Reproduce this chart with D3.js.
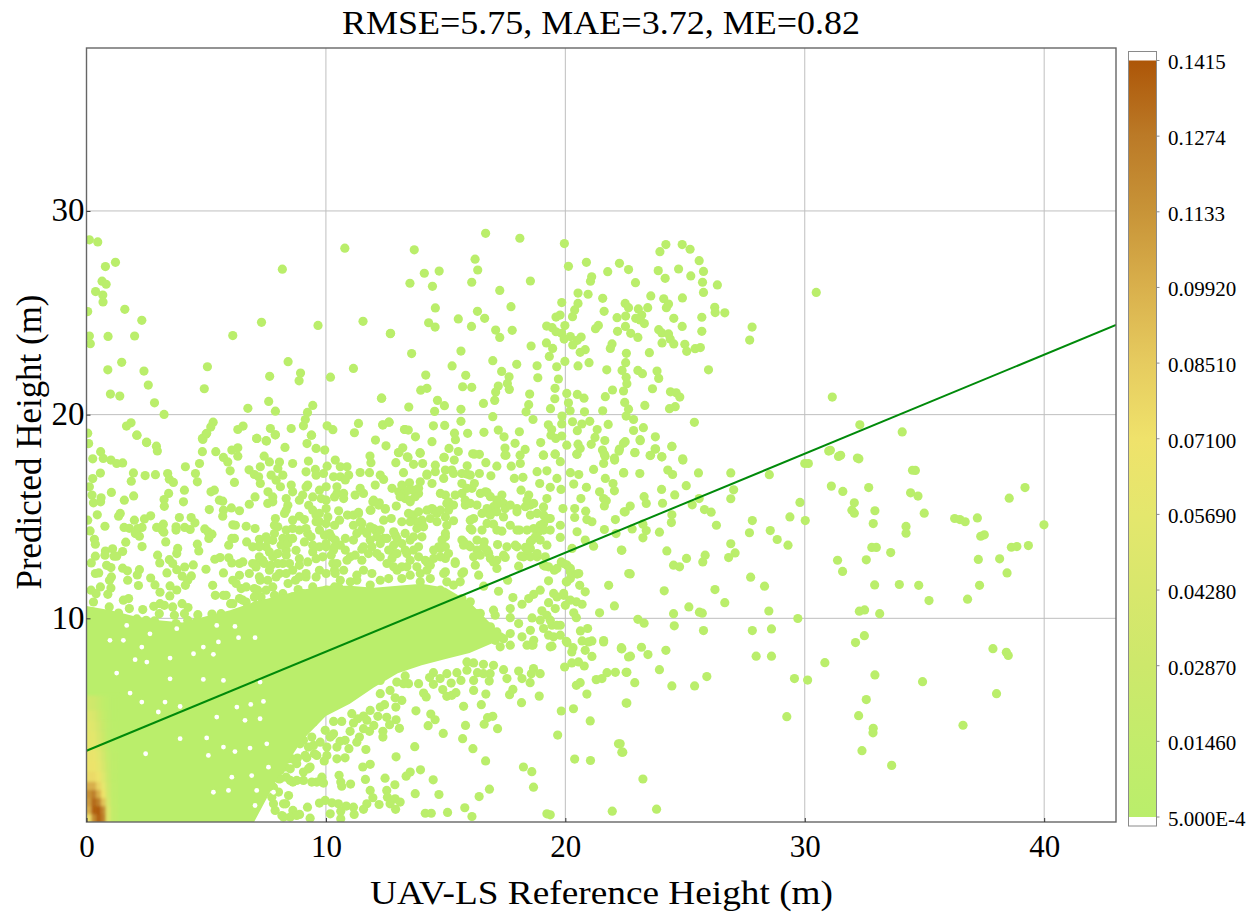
<!DOCTYPE html>
<html><head><meta charset="utf-8">
<script src="https://cdn.jsdelivr.net/npm/d3@7"></script>
<style>html,body{margin:0;padding:0;background:#fff}svg{display:block}text{font-family:"Liberation Serif",serif;fill:#000}</style>
</head><body><svg id="c" width="1258" height="912"></svg>
<script>
const xTicks=[0,10,20,30,40], yTicks=[10,20,30];
const titleText="RMSE=5.75, MAE=3.72, ME=0.82", xTitle="UAV-LS Reference Height (m)", yTitle="Predicted Height (m)";
const legendValues=[0.1415,0.1274,0.1133,0.0992,0.0851,0.071,0.0569,0.0428,0.0287,0.0146,0.0005];
const legendLabels=["0.1415","0.1274","0.1133","0.09920","0.08510","0.07100","0.05690","0.04280","0.02870","0.01460","5.000E-4"];
const colorStops=[0.0005,0.0146,0.0287,0.0428,0.0569,0.071,0.0851,0.0992,0.1133,0.1274,0.1415];
const colorValues=["#baee6b","#c3ec6b","#cde86b","#d8e76c","#e4e76d","#efe26b","#e6cb5f","#d9b04c","#c89438","#bb7a27","#ad5608"];
const fitX=[0,43], fitY=[3.5,24.4];

const farRight=[[39.99,14.59],[34.62,17.26],[39.2,16.42],[38.54,15.9],[34.42,16.16],[34.73,16],[34.99,15.16],[36.26,14.9],[36.48,14.85],[36.7,14.74],[37.21,14.93],[37.35,14.03],[37.5,14.1],[38.63,13.49],[38.86,13.52],[39.34,13.57],[37.25,12.89],[38.14,12.92],[38.45,12.23],[37.3,11.62],[36.8,10.94],[34.76,11.62],[35.19,10.87],[33.95,11.66],[32.92,11.64],[34.23,14.51],[34.23,14.18],[33.59,13.23],[32.8,13.48],[32.99,13.48],[32.57,12.87],[32.86,14.65],[32.93,15.28],[32.07,15.67],[31.97,15.31],[32.07,15.16],[32.67,16.42],[31.59,16.23],[31.11,16.49],[32.26,17.83],[31.41,17.95],[31,18.21],[30,17.6],[28.52,17.05],[26.91,17.14],[27.03,16.31],[26.91,15.87],[29.8,15.69],[29.38,14.98],[30.02,14.8],[27.81,14.8],[28.56,14.31],[27.69,14.2],[28.85,13.87],[29.3,13.59],[26.91,13.66],[27.09,13.21],[26.82,12.98],[25.84,13.1],[25.74,12.77],[25.06,12.94],[24.52,12.61],[24.77,12.53],[24.24,13.31],[22.71,12.18],[27.74,12.02],[28.32,11.58],[26.25,11.41],[26.66,10.77],[24.13,11.35],[25.16,10.56],[24.52,10.23],[25.6,10.3],[25.72,10.25],[28.5,10.36],[29.71,9.99],[32.28,10.35],[32.5,10.41],[33.13,10.23],[31.37,12.85],[31.58,12.3],[32.49,9.15],[32.12,8.81],[23.03,9.95],[23.29,9.76],[24.55,9.63],[25.77,9.4],[27.81,9.4],[28.61,9.48],[28.61,8.14],[27.97,8.14],[23.18,8.58],[24.2,8.43],[23.45,8.22],[22.72,8.14],[22.36,8.5],[30.84,7.82],[22.57,7.35],[23.93,7.48],[22.9,6.84],[24.45,6.68],[25.4,6.68],[25.91,7.14],[29.57,7.04],[30.12,6.97],[32.93,7.22],[34.92,6.89],[32.57,6.01],[32.25,5.22],[32.86,4.6],[32.85,4.38],[32.39,3.5],[33.63,2.78],[29.25,5.17],[36.61,4.75],[38.01,6.3],[37.86,8.51],[38.42,8.33],[38.5,8.18],[22.57,5.84],[23.24,2.11],[23.81,0.63],[22.4,3.43],[22.29,3.84],[22.36,13.34],[22.79,14.39],[23.24,13.95],[23.38,14.31],[23.93,14.23],[24.43,14.7],[24.45,15.08],[26.31,14.57],[26.09,15.21],[25.81,15.34],[25.59,15.88],[25.3,15.57],[25.05,16.51],[24.57,16.06],[24.06,15.65],[24.02,16.33],[23.38,15.64],[23.29,15.97],[22.71,15.51],[22.5,15.23],[25.56,17.14],[24.48,17.06],[24.28,17.28],[23.11,17.11],[22.43,17.14],[24.91,17.77],[24.03,17.93],[23.56,18],[22.9,18.13],[24.45,18.44],[23.77,18.31],[23.13,18.72],[22.43,18.59],[23.24,14.62],[30.48,26],[27.7,23.66],[27.8,24.3],[31.15,20.86],[32.3,19.5],[34.07,19.15],[31.07,18.25],[31.5,18],[32.2,17.87],[34.5,17.27],[30.15,17.6]];

const upperMiddle=[[16.67,28.9],[18.1,28.66],[19.96,28.4],[13.69,28.09],[16.23,27.63],[16.34,27.1],[14.11,26.94],[14.73,27.05],[13.51,26.45],[14.45,26.3],[16.09,26.5],[18.54,26.56],[17.26,26.1],[14.57,25.24],[17.73,25.3],[16.33,25.07],[15.53,24.7],[16.63,24.73],[14.29,24.51],[14.56,24.3],[16.08,24.33],[17.09,24.15],[17.78,24.14],[17.26,23.79],[12.69,23.97],[13.58,23],[15.64,23.12],[18.57,23.37],[19.21,23.52],[19.47,23.25],[19.33,22.86],[19.98,22.61],[16.97,22.65],[17.97,22.47],[18.82,22.4],[19.64,22.35],[15.27,22.39],[17.34,22.12],[15.84,21.93],[14.17,21.94],[17.65,21.86],[18.85,21.81],[19.71,21.75],[17.58,21.53],[17.2,21.4],[17.66,21.24],[15.71,21.37],[16.09,21.34],[14.22,21.29],[13.96,21.2],[19.57,21.29],[17.09,21.11],[18.51,21.01],[20.06,21.04],[12.33,20.81],[14.66,20.7],[17.05,20.7],[19.56,20.78],[13.46,20.37],[14.95,20.44],[16.58,20.55],[18.47,20.49],[20.13,20.58],[14.54,20.16],[15.64,20.26],[19.38,20.29],[18.36,20.14],[20.2,20.19],[16.97,19.9],[18.65,19.76],[19.86,19.93],[12.64,19.63],[12.37,19.5],[15.64,19.67],[14.49,19.45],[14.96,19.47],[19.29,19.5],[19.85,19.54],[20.3,19.65],[13.3,19.27],[13.44,19.24],[13.74,18.91],[15.37,19.09],[15.92,19.08],[16.6,19.13],[17.2,19.24],[18.08,19.16],[17.44,18.91],[19.43,19.27],[19.85,18.95],[19.4,18.99],[19.6,18.83],[15.41,18.77],[14.43,18.67],[12.51,18.47],[13.21,18.37],[13.03,18.14],[13.93,18.13],[15.14,18.34],[15.53,18.19],[16.13,18.08],[16.41,18.05],[17.48,18.36],[17.9,18.59],[18.32,18.29],[18.97,18.63],[19.08,18.01],[19.57,18.06],[20.06,18.5],[17.48,18.01],[18.11,18.01],[13.4,17.93],[14.93,17.9],[20.88,27.48],[20.13,27.28],[21.77,27.02],[22.26,27.43],[22.64,27.12],[22.93,26.48],[21.1,26.77],[21.05,26.55],[20.53,25.97],[20.95,25.91],[21.56,25.71],[19.85,25.5],[20.53,25.46],[20.39,25.14],[20.3,24.81],[19.78,24.89],[19.61,24.79],[21.62,25.07],[22.5,25.46],[22.64,25.25],[23.57,25.83],[24.11,25.69],[24.31,25.43],[24.22,25.25],[24.89,25.73],[23.05,25.19],[23.44,25.25],[23.19,24.89],[22.16,24.76],[22.52,24.84],[22.94,24.73],[23.12,24.65],[23.3,24.47],[24.53,24.73],[25.7,24.78],[26.24,25.27],[26.26,25.01],[26.66,25],[25.77,26],[25.73,26.5],[26.35,26.37],[25.24,26.81],[25.77,27.03],[25.59,27.56],[24.73,27.15],[24.17,26.69],[23.88,27.07],[23.95,28],[24.2,28.35],[24.88,28.35],[25.21,28.12],[21.38,24.38],[21.26,24.22],[22.18,24.09],[22.51,24.33],[22.73,23.99],[23.03,23.79],[23.9,24.17],[24.03,24.01],[24.31,23.96],[24.38,23.71],[24.53,23.47],[24.04,23.52],[24.88,24.33],[25.7,24.09],[24.99,23.45],[25.07,23.11],[25.42,23.24],[25.64,23.29],[25.98,22.2],[19.22,24.35],[19.45,24.27],[19.61,24.07],[19.98,24.37],[19.84,23.99],[19.95,23.71],[20.21,23.83],[20.66,23.81],[20.5,23.65],[20.31,23.42],[20.83,23.19],[20.62,23.06],[21.95,23.47],[21.88,23.25],[22.55,23.01],[23.51,23.04],[22.52,22.55],[20.99,22.55],[20.53,22.39],[21.73,22.2],[22.37,22.17],[23.03,22.17],[23.22,22.01],[23.83,22.14],[23.9,21.78],[22.54,21.83],[22.57,21.52],[23.64,21.27],[21.97,21.21],[22.43,21.16],[24.39,21.12],[24.63,21.07],[24.78,20.86],[20.5,20.99],[20.78,20.81],[21.67,20.88],[22.48,20.6],[23.32,20.45],[24.59,20.39],[24.35,20.29],[22.64,20.27],[21.56,20.19],[20.8,20.14],[22.54,19.93],[22.85,19.76],[25.39,19.62],[21.02,19.67],[21.79,19.52],[20.69,19.54],[20.5,19.21],[21.33,19.27],[23.26,19.36],[22.85,19.22],[23.76,18.91],[21.24,18.88],[21.65,18.73],[23.12,18.77],[22.5,18.67],[20.53,18.55],[21.08,18.54],[24.45,18.44],[22.26,18.31],[21.55,18.26],[20.62,18.34],[23.75,18.32],[22.91,18.14],[20.48,18.05],[21.66,17.96],[23.54,17.99],[24.03,17.93],[24.9,17.83],[22.05,17.86]];

const upperLeft=[[0.12,28.58],[0.47,28.48],[0.79,27.27],[1.21,27.48],[0.65,26.55],[0.82,26.4],[0.38,26.04],[0.68,25.87],[0.69,25.53],[0.05,25.06],[1.6,25.17],[2.31,24.63],[0.12,23.86],[0.9,23.84],[2.01,23.86],[0.16,23.48],[1.47,22.57],[0.89,22.2],[2.4,22.14],[2.58,21.45],[1,21.01],[1.39,20.91],[2.84,20.58],[3.24,20.01],[1.86,19.6],[1.67,19.44],[2.1,18.99],[0.05,19.09],[2.51,18.65],[10.79,28.17],[8.18,27.14],[7.31,24.53],[9.67,24.38],[6.11,23.88],[11.55,24.58],[12.7,23.99],[8.42,22.6],[5.05,22.35],[11.15,22.27],[7.65,21.88],[8.94,22.04],[8.88,21.66],[10.19,21.84],[4.92,21.27],[12.32,20.81],[7.61,20.65],[6.74,20.31],[9.45,20.45],[7.89,20.17],[9.23,20.11],[9.14,19.76],[9.06,19.45],[5.29,19.63],[5.19,19.39],[4.99,19.04],[4.84,18.83],[6.54,19.44],[6.32,19.27],[7.68,19.32],[7.89,19.01],[8.55,19.32],[10.05,19.45],[10.29,19.26],[11.36,19.57],[11.19,19.11],[12.38,19.49],[12.63,19.63],[13.28,19.27],[9.39,18.99],[7.11,18.83],[7.5,18.72],[12.07,18.75]];

const leftFringe=[[2.11,18.99],[2.51,18.63],[2.92,18.45],[2.96,18.22],[0.09,18.58],[0.59,18.18],[0.26,17.83],[0.7,17.85],[1.02,17.77],[1.26,17.6],[1.51,17.63],[1.96,17.14],[0.58,17.13],[2.45,17.01],[2.88,17.05],[1.87,16.73],[3.39,17.11],[3.46,16.83],[3.63,16.67],[0.26,16.86],[0.12,16.46],[1.04,16.18],[1.97,16.01],[1.58,15.8],[0.23,16.05],[0.61,15.92],[0.59,15.72],[0.29,15.67],[3.43,16.13],[3.24,15.83],[4.05,15.72],[4.09,16.29],[3.25,15.5],[0.45,15.08],[1.41,15.15],[1.34,15.01],[2.68,15.03],[2.42,14.88],[2,14.82],[0.05,14.82],[0.77,14.52],[1.57,14.46],[1.79,14.42],[2.32,14.46],[2.14,14.41],[2.04,14.16],[2.21,14.03],[0.15,14.29],[0.33,13.88],[0.37,13.64],[1.64,13.74],[2.32,13.52],[2.93,14.46],[3.21,14.62],[3.16,14.33],[3.23,14.23],[3.88,14.95],[4.37,14.95],[4.53,14.69],[3.74,14.49],[3.74,14.33],[4.1,14.46],[4.33,14.36],[4.94,14.39],[5.08,14.24],[5.24,14.13],[5.11,13.92],[3.31,13.75],[0.79,13.3],[1.09,13.41],[0.77,13.1],[1.15,13.05],[1.26,13.05],[1.51,13.28],[3.81,13.43],[3.77,13.18],[2.97,13.1],[3.06,12.72],[3.46,12.88],[3.6,12.69],[3.77,12.39],[4.1,12.52],[4.46,12.62],[4.63,13.64],[4.69,13.31],[4.99,12.41],[0.37,13.05],[0.2,12.72],[0.84,12.6],[1.02,12.49],[1.51,12.46],[1.71,12.33],[2.21,12.39],[2.12,12.13],[1.72,11.87],[0.37,12.2],[0.51,12.23],[1.04,12.03],[0.96,11.87],[1.02,11.49],[2.17,11.61],[2.68,11.98],[2.86,11.64],[3.36,12.23],[4,12.07],[4.38,12.08],[4.23,11.87],[4.13,11.62],[3.07,11.28],[3.49,11.59],[3.77,11.39],[3.48,11.1],[0.58,11.54],[0.89,11.18],[0.19,11.38],[0.4,11.21],[0.29,10.8],[1.54,10.89],[1.76,10.97],[0.95,10.56],[1.79,10.48],[2.35,10.43],[2.81,10.59],[3.07,10.72],[3.25,10.64],[3.6,10.56],[3.99,10.72],[4.24,10.53],[1.34,10.26],[2.1,9.97],[2.49,9.9],[2.84,9.87],[4.65,10.18],[5.24,10.21],[5.62,10.23],[6.41,10.23],[5.27,11.62],[5.38,11.13],[5.72,11.13],[5.83,11.13],[6.02,10.72],[5.72,12.23],[5.36,12.9],[5.58,12.98],[5.94,12.97],[6.07,12.72],[6.53,12.77],[6.11,11.87],[6.39,12.11],[6.8,12.2],[6.46,11.46],[6.39,10.97],[7.01,11.46],[7.26,11.87],[7.11,12.69],[4.84,18.18],[4.72,17.6],[4.13,17.44],[4.55,17.11],[4.63,16.7],[5.2,16.21],[5.34,16.29],[5.55,15.8],[5.69,15.75],[5.13,15.34],[5.72,15.31],[5.69,15.01],[6.05,15.42],[6.39,15.28],[6.8,15.6],[7.04,15.96],[5.4,18.18],[5.72,17.9],[5.9,17.68],[6,17.24],[6.18,16.67],[6.07,18.26],[6.32,18.37],[6.32,17.96],[4.86,18.78],[5.02,19.08],[7.11,18.83],[7.52,18.7],[7.88,19.01],[8.29,18.39],[7.42,17.96],[7.64,17.68],[8.06,17.67],[7.26,17.44],[6.79,17.29],[7.01,17.06],[7.19,16.95],[7.26,16.62],[7.71,17.03],[7.99,17.36],[8.2,17.03],[7.92,16.78],[8.1,16.46],[8.61,17.6],[9.27,17.72],[9.17,17.19],[9.56,17.31],[10.05,17.47],[8.55,16.54],[8.61,16.21],[9.03,16.05],[9.24,16.54],[9.59,17.03],[9.9,17.11],[10.01,16.46],[9.21,18.58],[9.4,18.99],[9.59,18.34],[9.95,18.26],[7.58,16.21],[7.57,15.64],[7.78,15.72],[8.34,15.88],[8.41,15.55],[9.28,15.55],[10.01,15.39],[9.8,15.88],[10.36,15.96],[8.27,15.15],[7.89,14.9],[7.85,14.57],[8.89,15.01],[9.1,14.85],[9.59,14.74],[6.67,14.52],[7.04,14.41],[6.69,13.75],[6.94,13.51],[7.22,13.88],[7.5,14],[6.11,14.59],[6.22,14.57],[6.07,13.92],[6.18,13.92],[5.94,13.59],[7.5,13.51],[8.2,13.92],[8.41,13.92],[8.34,13.34],[8.89,14.33],[9.24,14.16],[9.73,14.33],[10.15,14.16],[7.36,12.85],[7.78,13.02],[8.2,12.69],[8.89,12.93],[9.45,13.26],[10.01,13.51],[7.64,12.36],[8.06,12.2],[8.61,12.36],[9.17,12.03],[9.73,12.36],[10.29,12.69],[7.29,11.05],[7.78,11.54],[8.42,11.71],[8.73,11.87],[8.84,11.41],[9.45,11.54],[10.01,11.38],[7.5,10.72],[8.2,10.72],[8.75,10.56],[9.45,10.89]];

const centreFringe=[[11.84,17.97],[11.88,17.64],[12.92,17.64],[13.43,17.9],[13.66,17.56],[14.04,17.6],[13.94,18.1],[13.05,18.13],[14.94,17.9],[15.36,17.77],[14.57,17.52],[15.9,17.49],[16.2,18.06],[16.68,17.64],[17.14,17.47],[17.52,18.01],[17.74,17.47],[18.12,17.6],[19.09,18.01],[19.58,18.06],[19.79,17.69],[20.49,18.06],[21.63,18.06],[21.6,17.6],[22.06,17.77],[22.24,18.21],[11.43,17.16],[11.82,17.15],[12.27,17.03],[12.41,16.82],[12.06,16.54],[13.24,17.15],[14.22,17.08],[14.57,17.2],[14.99,17.28],[15.33,17.11],[15.89,17.08],[16.41,17.11],[16.89,17],[17.87,16.87],[18.23,16.92],[18.82,17.2],[19.23,17.24],[19.65,16.87],[20.21,17.15],[20.56,17.06],[21.18,17.31],[21.67,16.87],[22.44,17.15],[18.93,16.62],[19.37,16.43],[19.82,16.33],[20.35,16.59],[20.88,16.43],[21.99,16.62],[21.43,16.21],[22.05,16.26],[20.65,15.88],[19.23,15.88],[21.6,15.88],[21.71,15.77],[21.63,15.52],[12.76,16.38],[13.49,16.65],[13.94,16.7],[14.43,16.62],[14.92,16.87],[15.68,16.62],[16.1,16.38],[18.15,16.29],[14.78,16.13],[16.73,16.18],[17.35,16.05],[18.47,16.05],[11.22,16.05],[11.57,16.13],[10.74,15.88],[10.46,16.13],[13.87,16.13],[13.24,16.13],[13.52,15.72],[11.96,15.72],[12.23,15.67],[12.94,15.51],[15.12,15.72],[15.82,15.56],[16.31,15.56],[17.14,15.56],[17.98,15.39],[18.54,15.56],[19.9,15.39],[20.39,15.39],[20.85,15.26],[20.39,14.95],[22.46,15.23],[10.53,15.28],[11.88,15.31],[12.48,15.36],[11.36,15.2],[10.9,15.07],[10.57,14.82],[11.5,14.66],[12.41,14.82],[12.73,14.9],[13.17,14.74],[13.59,15.07],[14.5,15.31],[14.99,14.98],[15.33,14.79],[14.01,14.82],[14.64,14.74],[16.17,14.9],[16.8,15.15],[17.42,14.98],[18.54,15.07],[19.37,14.9],[20.9,14.85],[21.11,14.74],[22.09,14.85],[21.63,14.36],[19.79,14.57],[19.09,14.66],[16.03,14.41],[16.52,14.33],[17,14.62],[17.35,14.28],[18.09,14.33],[18.82,14.33],[20.49,14.25],[22.12,14.16],[14.08,14.49],[12.06,14.33],[11.29,14.17],[10.81,13.92],[10.39,13.84],[13.52,13.84],[12.9,14.08],[12.41,13.92],[14.99,14],[15.68,13.84],[15.96,13.59],[16.61,13.76],[17.17,13.62],[17.56,13.51],[17.91,13.59],[19.23,13.59],[18.61,13.84],[19.79,13.97],[21.18,13.54],[20.83,13.84],[22.34,13.35],[11.5,13.39],[13.87,13.51],[14.78,13.43],[16.31,13.35],[18.33,13.48],[20.28,13.43],[11.02,13.02],[12.27,13.02],[12.83,13.18],[13.38,13.18],[16.8,13.18],[17.49,12.99],[18.15,13.05],[18.82,13.02],[14.99,12.94],[14.15,12.85],[17,12.77],[18.05,12.56],[16.24,12.61],[19.16,12.56],[19.83,12.77],[20.07,12.61],[17.14,12.45],[15.4,12.77],[19.54,12.36],[20.21,12.28],[20.49,12.17],[22.65,12.2],[14.36,11.95],[14.99,12.28],[15.75,12.28],[16.38,12.12],[17.59,11.87],[19.3,11.84],[20.04,11.79],[21.81,11.62],[20.6,11.62],[12.62,11.95],[13.17,12.53],[11.29,11.87],[10.53,11.54],[16.59,11.58],[17.21,11.33],[18.95,11.38],[18.68,11.18],[18.47,10.97],[18.19,10.69],[17.81,11.02],[19.51,11.22],[19.93,11.13],[20.83,11.3],[20.46,10.81],[20.7,10.69],[19.3,10.77],[20,10.64],[22.05,10.61],[21.43,10.27],[16.03,10.81],[15.68,10.97],[17,10.4],[17.7,10.48],[17.07,10.15],[19.02,10.37],[19.58,10.48],[20.35,10.27],[20.46,10.03],[18.61,10.02],[17.7,10.03],[18.05,9.74],[19.09,9.5],[19.79,9.66],[19.44,9.66],[20.63,9.38],[20.93,9.5],[21.6,8.91],[21.11,8.89],[20.7,8.89],[20.04,8.87],[19.51,9.09],[18.61,8.68],[18.19,9.09],[18.54,9.41],[17.7,9.25],[17.28,9.09],[22.34,8.56],[20.32,8.56],[19.37,8.6],[16.45,10.24],[16.17,9.9],[16.73,9.58]];

const centreBlobs=[[10.39,17.77],[10.6,17.44],[10.88,17.44],[10.6,16.95],[10.81,16.79],[10.46,16.46],[10.74,16.13],[10.95,17.03],[10.32,16.95],[13.04,16.21],[13.31,16.21],[13.66,16.29],[13.31,15.88],[13.52,15.8],[13.87,16.38],[13.17,16.54],[14.22,17.03],[15.26,17.28],[15.68,17.11],[16.03,17.03],[16.2,16.62],[15.89,16.38],[15.68,16.13],[15.4,16.05],[14.99,16.05],[15.05,15.64],[15.33,15.56],[15.82,15.8],[16.03,15.64],[16.45,16.13],[16.66,16.21],[16.87,15.97],[17.14,15.8],[17.42,15.64],[17,15.48],[16.73,15.39],[16.52,15.15],[16.87,15.07],[17.14,15.23],[17.49,15.39],[17.7,15.56],[17.98,15.23],[18.33,15.48],[18.4,15.8],[18.68,15.64],[18.82,15.15],[19.09,15.07],[19.3,14.9],[18.95,14.57],[18.88,14.25],[19.09,14.33],[19.37,14.33],[18.75,14],[18.54,13.76],[18.95,13.84],[11.99,15.8],[11.85,15.31],[12.2,15.56],[12.48,15.39],[13.45,15.15],[13.66,15.07],[13.87,15.23],[14.22,15.31],[14.43,15.39],[14.64,15.15],[14.36,14.9],[14.01,14.74],[13.8,14.74],[13.52,14.74],[13.8,14.41],[14.01,14],[11.43,14.74],[11.15,15.07],[11.36,15.15],[11.15,14.57],[11.5,14.33],[11.71,14.17],[11.99,14.41],[12.27,14.33],[12.13,14],[11.85,13.84],[12.27,13.67],[12.55,13.92],[12.97,13.92],[13.17,13.67],[12.83,13.59],[15.05,14.57],[14.99,14.17],[14.85,13.84],[14.71,13.51],[14.5,13.35],[14.99,13.51],[15.12,13.18],[14.78,13.02],[14.5,12.94],[14.22,12.77],[13.66,13.35],[13.31,13.35],[12.97,13.18],[12.76,12.94],[12.55,12.69],[12.13,13.18],[11.78,13.18],[11.5,12.85],[11.22,13.1],[10.81,13.35],[10.6,13.59],[10.32,13.35],[10.46,12.69],[10.88,12.85],[10.74,12.36],[15.75,13.76],[16.03,13.51],[16.17,13.02],[16.45,13.1],[16.73,13.35],[16.87,12.94],[17.14,12.85],[17.42,13.1],[17.98,13.51],[18.54,13.43],[18.26,13.02],[18.54,13.02],[18.82,13.18],[19.16,13.02],[12.97,12.36],[13.38,12.53],[13.8,12.53],[13.94,12.2],[13.52,12.12],[13.17,11.95],[12.83,12.53],[14.22,12.36],[14.92,12.2],[15.4,12.69],[15.68,12.2],[15.61,11.79],[15.33,11.63],[15.05,11.79],[14.78,11.38],[13.94,11.79],[12.27,11.87],[11.92,12.2],[11.57,12.36],[11.29,12.12],[11.02,11.79],[10.6,11.87],[10.39,12.2],[11.85,11.63],[16.1,10.23],[16.31,10.23],[16.03,9.9],[16.38,9.74],[16.87,9.58],[17.14,9.33],[16.59,9.25],[17.42,9],[17.07,8.92],[18.68,8.92],[18.4,8.68],[17.7,8.68],[17.28,8.6],[18.95,9.91],[19.23,10.15],[19.37,9.91],[19.65,9.66],[19.3,9.17],[19.79,9.17],[19.93,12.69],[20.21,12.45],[20.56,12.2],[20.21,11.95],[20.07,11.79],[19.65,12.45],[19.3,12.53],[19.09,12.61],[19.93,11.22],[19.65,11.05],[20.21,10.89],[11.43,16.38],[13.1,15.97],[13.45,16.29],[13.73,15.97],[14.78,15.31],[15.12,15.31],[16.03,14.82],[16.1,14.33],[16.73,14.66],[17.14,14.33],[17.7,14.57],[17.98,14.33],[18.4,14.33],[18.68,14.41],[19.09,15.47],[15.75,13.59],[16.31,13.84],[16.59,13.51],[18.4,13.35],[12.83,14.25],[13.31,14.17],[13.66,14],[11.85,14.49],[11.15,13.84],[11.57,13.51],[11.92,13.51],[12.62,13.35],[13.52,12.85],[13.87,13.02],[14.36,12.61]];

const leftBlobs=[[7.22,13.59],[7.57,13.83],[7.85,14.16],[8.13,13.59],[8.41,13.67],[8.61,13.92],[9.17,14.41],[9.38,14],[9.94,14.08],[10.22,14],[10.01,13.67],[9.73,13.51],[9.45,13.59],[9.1,13.75],[8.75,13.34],[8.34,13.1],[7.99,13.18],[7.64,13.26],[7.22,13.02],[7.08,12.52],[7.43,12.69],[7.71,12.6],[7.99,12.69],[8.48,12.69],[8.89,12.6],[9.24,12.77],[9.59,12.93],[9.87,13.02],[10.22,13.1],[10.36,13.51],[9.17,12.2],[9.59,12.03],[10.01,12.2],[10.36,12.36],[8.89,12.03],[8.34,12.2],[7.92,12.03],[7.57,11.87],[7.22,12.03],[7.15,11.38],[7.5,11.38],[7.85,11.13],[8.2,11.21],[8.61,11.05],[9.03,11.21],[9.45,11.21],[9.87,11.05],[10.29,11.05],[10.36,11.54],[7.08,10.64],[7.43,10.56],[7.78,10.56],[6.67,10.31],[6.87,9.99],[6.53,9.74],[9.73,14.74],[10.08,14.98],[10.36,14.57],[9.59,15.06],[0.26,10.31],[0.61,10.23],[3.04,10.23],[3.67,10.15],[4.09,10.23],[4.23,9.9],[3.74,9.74],[4.58,9.82],[5.06,9.82],[5.69,9.74],[6.11,9.82],[7.15,10.15],[6.67,10.8],[7.78,15.96],[8.89,15.8],[9.73,16.29],[9.45,15.96],[10.01,15.8],[9.17,16.45],[8.34,15.31],[8.61,14.82],[9.45,15.31],[9.73,15.15],[10.01,14.65],[7.99,14.49],[8.34,14.33],[8.61,14.41],[7.78,13.83],[7.22,13.51],[6.39,12.69],[6.94,12.69],[6.25,11.71],[6.67,11.54],[6.11,10.72],[6.53,10.89],[7.01,11.05]];

const lowerFringe=[[18.65,8.69],[19.44,8.63],[20.07,8.81],[20.97,8.84],[21.6,8.84],[22.34,8.51],[22.64,8.1],[20.27,8.35],[20.83,8.43],[21.11,8.13],[20.27,7.81],[20.55,7.86],[20.79,7.66],[19.97,7.61],[22.09,7.35],[22.54,7.35],[21.74,7.33],[21.53,7.04],[21.29,6.99],[20.62,6.84],[20.46,6.71],[20.9,6.28],[22.54,5.84],[20.34,5.56],[19.83,5.45],[21.04,4.96],[19.68,4.27],[22.22,3.84],[22.36,3.43],[20.39,3.09],[21.05,3.02],[21.96,0.53],[19.23,0.4],[19.37,0.35],[18.67,1.71],[18.25,2.7],[18.6,2.47],[16.67,3],[16.14,3.6],[15.71,4.09],[14.9,4.35],[15.83,4.74],[17.17,4.58],[16.61,4.8],[16.75,5.12],[16.97,5.19],[16.49,5.76],[15.75,5.68],[18.17,5.86],[18.91,6.18],[16.68,6.28],[17.67,6.25],[17.81,6.51],[16.17,6.46],[17.56,7.04],[18.53,6.84],[18.19,7.04],[18.05,7.41],[18.67,7.53],[18.95,7.28],[18.58,7.28],[17.42,7.48],[17,7.69],[16.58,7.74],[16.17,7.81],[15.89,7.45],[16.33,7.33],[16.86,7.28],[16.58,7.28],[16.17,6.95],[16.82,6.92],[15.64,6.95],[15.23,6.82],[15.47,7.33],[14.49,7.33],[14.33,7.09],[14.49,6.76],[14.88,6.5],[15.05,6.17],[15.43,6.35],[15.26,6.22],[14.19,6.14],[14.08,6.33],[13.31,7.17],[13.45,6.79],[13.87,6.79],[13.76,5.46],[12.96,6.87],[12.27,6.95],[13.17,5.97],[12.89,6.1],[12.92,5.64],[12.45,5.76],[12.27,5.64],[12.17,5.19],[12.54,5.14],[12.93,5.02],[12.66,4.78],[13.07,4.6],[12.38,4.45],[12.38,4.17],[11.82,4.45],[11.57,4.58],[11.4,4.17],[11.01,4.45],[11.57,5.2],[11.33,5.07],[11.08,5.32],[11.15,4.86],[10.66,4.94],[10.32,4.94],[14.38,5.3],[14.56,5.02],[14.27,4.73],[13.71,3.7],[12.93,3.2],[11.67,3.56],[10.96,3.6],[10.8,3.15],[10.46,3.1],[10.04,3.27],[9.93,3],[10.59,3.96],[10.18,4.17],[10.32,4.33],[9.41,4.17],[8.85,4.33],[9.48,4.91],[8.85,4.91],[9.48,3.76],[9.06,4.01],[9.52,3.35],[9.2,3.15],[8.81,3.14],[8.44,3.1],[8.51,3.84],[8.3,2.7],[9.27,2.61],[9.06,2.45],[11.85,2.83],[11.54,2.7],[13.95,2.56],[13.52,2.45],[13.35,2.25],[12.47,2.15],[11.65,2.09],[10.55,2.29],[10.62,1.96],[10.66,1.76],[11.03,1.86],[12.88,1.83],[14.48,2.07],[13.73,1.39],[14.72,1.35],[16.83,1.61],[16.4,1.25],[11.85,1.55],[12.54,1.55],[12.57,1.22],[11.96,1.19],[12.89,1.14],[13.1,0.98],[12.68,0.89],[12.22,0.86],[11.71,0.89],[11.57,0.62],[12.91,0.62],[11.15,0.73],[11.18,0.37],[10.85,0.78],[10.52,0.89],[10.25,0.94],[9.97,1.06],[9.73,0.93],[10.62,0.53],[10.18,0.4],[10.62,0.16],[9.34,0.19],[9.23,0.73],[8.9,0.37],[8.62,0.57],[8.32,0.89],[8.44,1.3],[8.02,1.47],[8.16,0.32],[7.81,0.89],[9.83,2.2],[9.62,1.96],[9.9,1.91],[8.62,1.96],[8.34,2.2],[8.02,2.12],[7.81,2.2],[14.15,0.43],[14.4,0.43],[15.08,0.47],[15.8,0.7],[16.1,0.27],[7.88,3.35],[8.3,3.19],[8.16,2.78],[7.88,2.7],[8.58,3.1],[7.74,2.12],[8.09,2.12],[7.81,1.71],[7.74,1.22],[8.23,0.89],[7.88,0.57],[8.51,2.04],[8.78,2.04],[9.06,2.04],[9.41,1.96],[9.34,2.7],[8.51,0.24],[8.23,0.24],[8.78,0.32],[9.97,4.5],[10.25,4.25],[9.76,3.92],[9.27,3.68],[8.92,3.84],[8.58,4.01],[8.23,3.68],[8.09,2.53],[8.51,2.61],[8.78,2.86],[9.13,3.27],[9.62,3.27],[10.04,3.68],[10.46,3.68],[10.8,4.01],[11.29,3.92],[12,4.74],[11.71,5],[11.85,5.48],[12.27,6.3],[12.68,6.46],[13.24,6.79],[14.77,7.04],[15.05,7.28],[15.89,7.86]];

// Solid part of the cloud, read as an envelope: at each reference height, lowest and highest prediction with no gaps.
const coreX=[0,1,2,3,4,5,6,7,8,9,10,11,12,13,14,15,16,17,17.5];
const coreTop=[10.6,10.4,10.1,9.9,9.8,10.1,10.4,10.8,11.1,11.4,11.6,11.6,11.5,11.6,11.7,11.5,10.8,9.6,9];
const coreBottom=[0,0,0,0,0,0,0,0,2.2,4,5.2,5.8,6.6,7.3,7.7,8,8.3,8.8,9];
// Small holes left inside the solid cloud.
const coreHoles=[[1.68,9.65],[0.98,8.92],[1.54,8.92],[2.31,8.59],[2.65,9.24],[3.77,9.49],[5.44,9.65],[6.2,9.6],[6.35,9.05],[5.51,8.84],[4.88,8.59],[4.47,8.26],[1.26,7.31],[2.03,7.97],[2.52,7.85],[3.49,8.05],[5.3,8.23],[7.04,9.05],[3.49,7.03],[4.88,7],[5.72,6.95],[1.82,6.33],[2.31,5.89],[3,5.4],[3.91,5.67],[3.28,5.89],[6.28,5.64],[6.86,5.77],[7.39,5.92],[7.25,6.87],[5.44,5.15],[6.62,4.99],[7.25,5.07],[7.53,3.84],[5.02,4.13],[3.91,4.09],[2.47,3.35],[6.2,3.46],[6.83,3.63],[5.09,3.27],[5.72,3.68],[7.6,2.69],[6.9,2.28],[6.07,2.2],[5.93,1.55],[7.11,1.55],[5.3,1.46],[7.81,1.46],[7.04,0.81],[7.25,0.24]];

// Point density near the origin.
const densityXEdges=[0,0.2,0.4,0.6,0.8,1.0,1.3];
const densityYEdges=[0,0.4,0.8,1.2,1.6,2,2.5,3,3.5,4,4.5,5,5.5,6.2];
const densityGrid=[
[0.072,0.118,0.138,0.125,0.05,0.012],
[0.10,0.138,0.14,0.12,0.05,0.012],
[0.11,0.135,0.125,0.09,0.04,0.01],
[0.115,0.125,0.10,0.07,0.032,0.009],
[0.10,0.10,0.08,0.06,0.028,0.008],
[0.076,0.076,0.068,0.05,0.024,0.007],
[0.068,0.068,0.06,0.042,0.02,0.006],
[0.064,0.064,0.054,0.036,0.016,0.005],
[0.062,0.06,0.048,0.03,0.012,0.004],
[0.06,0.056,0.042,0.024,0.01,0.003],
[0.056,0.05,0.036,0.02,0.008,0.002],
[0.05,0.044,0.03,0.016,0.006,0.001],
[0.034,0.03,0.02,0.01,0.004,0.001]];

const svg=d3.select("#c");
const pl={l:86.5,r:1116,t:48,b:822};
const x=d3.scaleLinear().domain([0,43]).range([pl.l,pl.r]);
const y=d3.scaleLinear().domain([0,38]).range([pl.b,pl.t]);
const color=d3.scaleLinear().domain(colorStops).range(colorValues);
const pointColor=color(0.0005);

const defs=svg.append("defs");
defs.append("clipPath").attr("id","plot").append("rect").attr("x",pl.l).attr("y",pl.t).attr("width",pl.r-pl.l).attr("height",pl.b-pl.t);
defs.append("filter").attr("id","soft").attr("x","-30%").attr("y","-30%").attr("width","160%").attr("height","160%").append("feGaussianBlur").attr("stdDeviation",1.8);

// grid
const grid=svg.append("g").attr("stroke","#bfbfbf").attr("stroke-width",1);
grid.selectAll("line.v").data(xTicks.slice(1)).join("line").attr("x1",d=>x(d)).attr("x2",d=>x(d)).attr("y1",pl.t).attr("y2",pl.b);
grid.selectAll("line.h").data(yTicks).join("line").attr("x1",pl.l).attr("x2",pl.r).attr("y1",d=>y(d)).attr("y2",d=>y(d));

const plot=svg.append("g").attr("clip-path","url(#plot)");
const allPoints=[...farRight,...upperMiddle,...upperLeft,...leftFringe,...centreFringe,...centreBlobs,...leftBlobs,...lowerFringe];
plot.append("g").attr("fill",pointColor).selectAll("circle").data(allPoints).join("circle")
  .attr("cx",d=>x(d[0])).attr("cy",d=>y(d[1])).attr("r",4.6);

const core=coreX.map((v,i)=>({x:v,t:coreTop[i],b:coreBottom[i]}));
plot.append("path").datum(core).attr("fill",pointColor)
  .attr("d",d3.area().x(d=>x(d.x)).y0(d=>y(d.b)).y1(d=>y(d.t)));
plot.append("g").attr("fill","#fff").selectAll("circle").data(coreHoles).join("circle")
  .attr("cx",d=>x(d[0])).attr("cy",d=>y(d[1])).attr("r",2.4);

// density heat near origin
const heat=[];
densityGrid.forEach((row,j)=>row.forEach((v,i)=>heat.push({i,j,v})));
plot.append("g").attr("filter","url(#soft)").selectAll("rect").data(heat).join("rect")
  .attr("x",d=>x(densityXEdges[d.i])-(d.i===0?6:0)).attr("width",d=>x(densityXEdges[d.i+1])-x(densityXEdges[d.i])+(d.i===0?6:0)+0.5)
  .attr("y",d=>y(densityYEdges[d.j+1])).attr("height",d=>y(densityYEdges[d.j])-y(densityYEdges[d.j+1])+(d.j===0?6:0)+0.5)
  .attr("fill",d=>color(d.v));

// fit line
plot.append("path").datum(fitX.map((v,i)=>[v,fitY[i]])).attr("fill","none").attr("stroke","#008a0a").attr("stroke-width",2)
  .attr("d",d3.line().x(d=>x(d[0])).y(d=>y(d[1])));

// frame
svg.append("rect").attr("x",pl.l).attr("y",pl.t).attr("width",pl.r-pl.l).attr("height",pl.b-pl.t)
  .attr("fill","none").attr("stroke","#666").attr("stroke-width",1.4);

// axes
const axB=svg.append("g").attr("transform",`translate(0,${pl.b})`).call(d3.axisBottom(x).tickValues(xTicks).tickSizeInner(-4).tickSizeOuter(0).tickPadding(9));
axB.select(".domain").remove(); axB.selectAll("line").attr("stroke","#333");
axB.selectAll("text").attr("font-size",31).attr("dy","0.85em").text(d=>d);
const axL=svg.append("g").attr("transform",`translate(${pl.l},0)`).call(d3.axisLeft(y).tickValues(yTicks).tickSizeInner(-4).tickSizeOuter(0).tickPadding(2));
axL.select(".domain").remove(); axL.selectAll("line").attr("stroke","#333");
axL.selectAll("text").attr("font-size",33).attr("dy","0.3em");

svg.append("text").attr("x",601).attr("y",34).attr("text-anchor","middle").attr("font-size",34).attr("textLength",518).attr("lengthAdjust","spacingAndGlyphs").text(titleText);
svg.append("text").attr("x",601.5).attr("y",904).attr("text-anchor","middle").attr("font-size",34).attr("textLength",463).attr("lengthAdjust","spacingAndGlyphs").text(xTitle);
svg.append("text").attr("transform","translate(41,442) rotate(-90)").attr("text-anchor","middle").attr("font-size",36).attr("textLength",295).attr("lengthAdjust","spacingAndGlyphs").text(yTitle);

// colour bar
const cb={x:1128.5,w:28,t:51.5,b:826};
const cy=d3.scaleLinear().domain([0.0005,0.1415]).range([817,60.5]);
const grad=defs.append("linearGradient").attr("id","cbar").attr("x1",0).attr("x2",0).attr("y1",1).attr("y2",0);
colorStops.forEach((v,i)=>grad.append("stop").attr("offset",(v-0.0005)/0.141).attr("stop-color",colorValues[i]));
svg.append("rect").attr("x",cb.x).attr("y",cy(0.1415)).attr("width",cb.w).attr("height",cy(0.0005)-cy(0.1415)).attr("fill","url(#cbar)");
svg.append("rect").attr("x",cb.x).attr("y",cb.t).attr("width",cb.w).attr("height",cb.b-cb.t).attr("fill","none").attr("stroke","#8a8a8a").attr("stroke-width",1);
const lg=svg.append("g").selectAll("g").data(legendValues).join("g").attr("transform",d=>`translate(0,${cy(d)})`);
lg.append("line").attr("x1",cb.x+cb.w).attr("x2",cb.x+cb.w+3).attr("stroke","#8a8a8a");
lg.append("text").attr("x",1168).attr("y",1.5).attr("dy","0.35em").attr("font-size",21).text((d,i)=>legendLabels[i]);
</script></body></html>
